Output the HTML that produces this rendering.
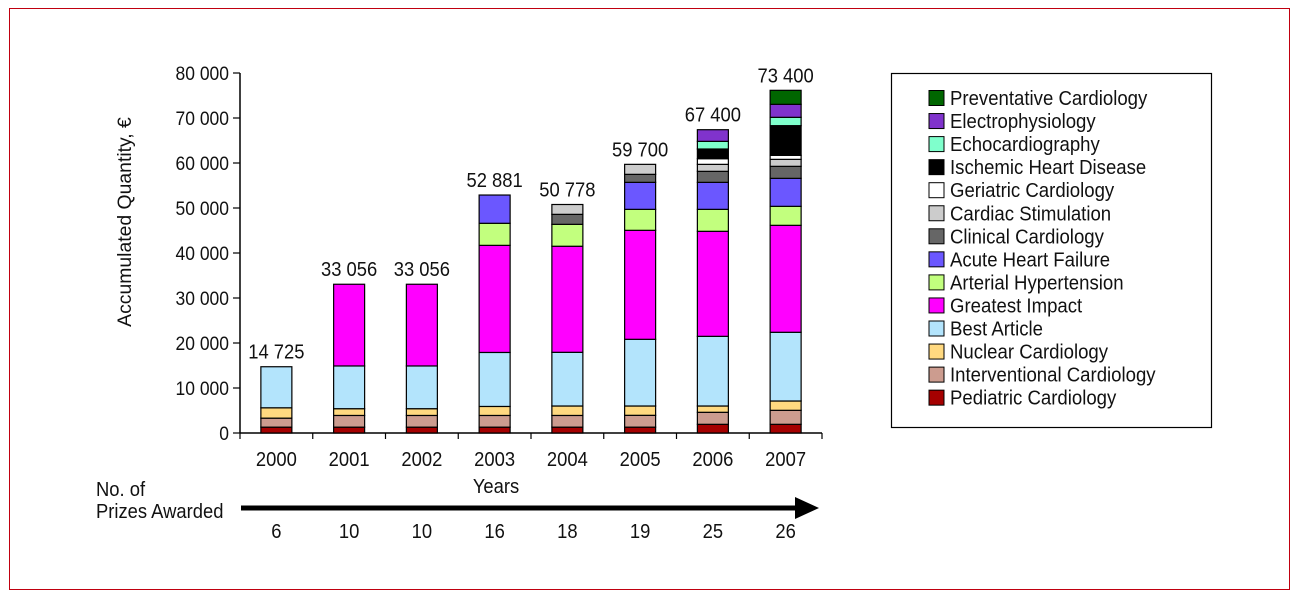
<!DOCTYPE html>
<html><head><meta charset="utf-8"><style>
html,body{margin:0;padding:0;background:#fff;}
svg{display:block;font-family:"Liberation Sans",Arial,sans-serif;}
</style></head><body>
<svg id="chart" width="1299" height="598" viewBox="0 0 1299 598">
<rect x="9.5" y="8.5" width="1280" height="581" fill="#fff" stroke="#c0000f" stroke-width="1"/>
<g id="plot"></g>
</svg>
<script>
const years = ["2000","2001","2002","2003","2004","2005","2006","2007"];
const totalsLabels = ["14 725","33 056","33 056","52 881","50 778","59 700","67 400","73 400"];
const prizes = ["6","10","10","16","18","19","25","26"];
const yTicks = [0,10000,20000,30000,40000,50000,60000,70000,80000];
const yTickLabels = ["0","10 000","20 000","30 000","40 000","50 000","60 000","70 000","80 000"];
const seriesNames = ["Pediatric Cardiology","Interventional Cardiology","Nuclear Cardiology","Best Article","Greatest Impact","Arterial Hypertension","Acute Heart Failure","Clinical Cardiology","Cardiac Stimulation","Geriatric Cardiology","Ischemic Heart Disease","Echocardiography","Electrophysiology","Preventative Cardiology"];
const seriesColors = ["#a50000","#cc9c8f","#ffd980","#b3e4fc","#ff00ff","#c2ff7e","#6b57ff","#666666","#cccccc","#ffffff","#000000","#7fffcc","#8033cc","#006600"];
const pediatric    = [1300,1300,1300,1300,1300,1300,1930,1930];
const interventional=[2000,2600,2600,2600,2600,2630,2670,3110];
const nuclear      = [2300,1500,1500,2000,2100,2070,1400,2070];
const bestArticle  = [9125,9500,9500,12000,11930,14820,15480,15270];
const greatest     = [0,18156,18156,23800,23570,24220,23340,23770];
const hypertension = [0,0,0,4900,4870,4660,4880,4220];
const heartFailure = [0,0,0,6281,0,6000,6000,6220];
const clinical     = [0,0,0,0,2220,1780,2450,2670];
const stimulation  = [0,0,0,0,2188,2220,1550,1550];
const geriatric    = [0,0,0,0,0,0,1260,890];
const ischemic     = [0,0,0,0,0,0,2150,6600];
const echo         = [0,0,0,0,0,0,1700,1850];
const electro      = [0,0,0,0,0,0,2590,2890];
const preventative = [0,0,0,0,0,0,0,3110];
const series = [pediatric,interventional,nuclear,bestArticle,greatest,hypertension,heartFailure,clinical,stimulation,geriatric,ischemic,echo,electro,preventative];

const NS="http://www.w3.org/2000/svg";
const g=document.getElementById('plot');
const X0=240,X1=822,Y0=433,Y1=73,YMAX=80000;
const band=(X1-X0)/years.length;
function yScale(v){return Y0-(v/YMAX)*(Y0-Y1);}
function xCenter(i){return X0+band*(i+0.5);}
function mk(tag,attrs){const e=document.createElementNS(NS,tag);for(const k in attrs)e.setAttribute(k,attrs[k]);g.appendChild(e);return e;}
function txt(str,x,y,anchor,size,sx){const t=mk('text',{x:0,y:0,'font-size':size,'text-anchor':anchor,fill:'#111',transform:`translate(${x},${y}) scale(${sx},1)`});t.textContent=str;return t;}

let a=mk('line',{x1:X0,y1:Y1,x2:X0,y2:Y0,stroke:'#000','stroke-width':1.5});


a=mk('line',{x1:X0,y1:Y0,x2:X1,y2:Y0,stroke:'#000','stroke-width':1.5});


yTicks.forEach((v,i)=>{
  const y=yScale(v);
  mk('line',{x1:X0-7,y1:y,x2:X0,y2:y,stroke:'#000','stroke-width':1.2});
  const t=txt(yTickLabels[i],229,y+7,'end',19,0.92);
  
  
});
for(let i=0;i<=years.length;i++){const x=X0+band*i;mk('line',{x1:x,y1:Y0,x2:x,y2:Y0+6,stroke:'#000','stroke-width':1.2});}
let yt=txt('Accumulated Quantity, €',0,0,'middle',19,1);
yt.setAttribute('transform','translate(131,222) rotate(-90) scale(1.02,1)');



const bw=31;
years.forEach((yr,i)=>{
  let cum=0;const cx=xCenter(i);
  series.forEach((s,k)=>{
    const v=s[i];if(!v)return;
    const r=mk('rect',{x:cx-bw/2,y:yScale(cum+v),width:bw,height:yScale(cum)-yScale(cum+v),fill:seriesColors[k],stroke:'#000','stroke-width':1.2});
    
    
    cum+=v;
  });
  const tl=txt(totalsLabels[i],cx,yScale(cum)-8,'middle',20,0.92);
  
  
  const xl=txt(yr,cx,466,'middle',20,0.92);
  
  
  const pl=txt(prizes[i],cx,538,'middle',20,0.92);
  
  
});
let xt=txt('Years',496,493,'middle',20,0.92);


let n1=txt('No. of',96,496,'start',20,0.92);


let n2=txt('Prizes Awarded',96,518,'start',20,0.92);


let ar=mk('rect',{x:241,y:505.5,width:556,height:5,fill:'#000'});


let ah=mk('polygon',{points:'795,497 819,508 795,519',fill:'#000'});



let lb=mk('rect',{x:891.5,y:73.5,width:320,height:354,fill:'#fff',stroke:'#000','stroke-width':1.2});


for(let j=0;j<seriesNames.length;j++){
  const k=seriesNames.length-1-j;
  const y=98+j*23.05;
  const sw=mk('rect',{x:929,y:y-7.5,width:15,height:15,fill:seriesColors[k],stroke:'#000','stroke-width':1});
  
  
  const t=txt(seriesNames[k],950,y+7,'start',20,0.93);
  
  
}
</script>
</body></html>
